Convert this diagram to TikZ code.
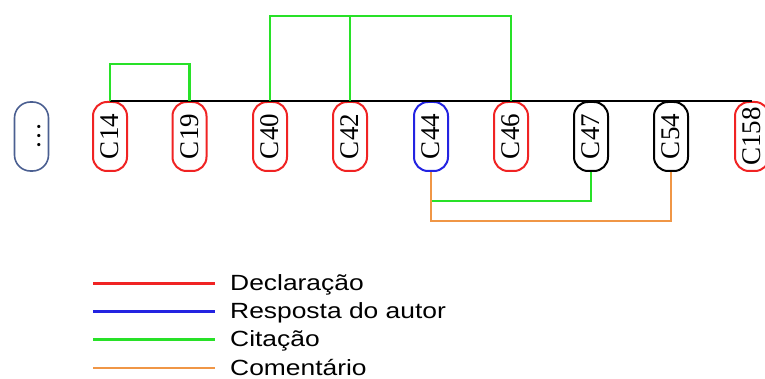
\documentclass[tikz,border=0pt]{standalone}
\usepackage{fontspec}
\usepackage{graphicx}
\setmainfont{Liberation Serif}
\newfontfamily\legendfont[FakeStretch=1.2]{Liberation Sans}
\newcommand{\vtext}[1]{\rotatebox{90}{#1}}

\definecolor{declred}{RGB}{240,35,35}
\definecolor{respblue}{RGB}{35,35,225}
\definecolor{citegreen}{RGB}{40,225,40}
\definecolor{comorange}{RGB}{240,150,70}
\definecolor{moreblue}{RGB}{75,95,145}

\begin{document}
\begin{tikzpicture}[x=1pt,y=-1pt,
  msg/.style={draw,line width=2pt,rounded corners=14pt,minimum width=34pt,
              minimum height=69pt,inner sep=0pt,font=\fontsize{27}{30}\selectfont},
  link/.style={line width=2.2pt},
  key/.style={anchor=base west,inner sep=0pt,font=\legendfont\fontsize{22}{26}\selectfont}]
\useasboundingbox (0,0) rectangle (765,379);

% messages of the thread
\node (more) at ( 31.5, 136.5) [msg,draw=moreblue,line width=1.6pt,rounded corners=16pt] {\vtext{\vphantom{C}\ldots}};
\node (c14)  at (110.0, 136.5) [msg,draw=declred]  {\vtext{C14}};
\node (c19)  at (189.5, 136.5) [msg,draw=declred]  {\vtext{C19}};
\node (c40)  at (270.0, 136.5) [msg,draw=declred]  {\vtext{C40}};
\node (c42)  at (350.0, 136.5) [msg,draw=declred]  {\vtext{C42}};
\node (c44)  at (431.0, 136.5) [msg,draw=respblue] {\vtext{C44}};
\node (c46)  at (511.0, 136.5) [msg,draw=declred]  {\vtext{C46}};
\node (c47)  at (591.0, 136.5) [msg,draw=black]    {\vtext{C47}};
\node (c54)  at (671.0, 136.5) [msg,draw=black]    {\vtext{C54}};
\node (c158) at (752.0, 136.5) [msg,draw=declred]  {\vtext{C158}};

\draw [link,black] (c14.north) -- (c158.north);

% citations above
\draw [link,citegreen] (c14.north) -- ++(0,-37) -| (c19.north);
\draw [link,citegreen] (c40.north) -- ++(0,-85) coordinate (top) -| (c46.north);
\draw [link,citegreen] (c42.north) -- (c42.north |- top);

% citation and comment below
\draw [link,citegreen] (c44.south) -- ++(0,29) -| (c47.south);
\draw [link,comorange] (c44.south) -- ++(0,49) -| (c54.south);

% legend
\coordinate (k1) at (93,283.5);
\coordinate (k2) at (93,311.5);
\coordinate (k3) at (93,339.5);
\coordinate (k4) at (93,368.0);
\node (decl) at (230,290.5) [key] {Declaração};
\node (resp) at (230,318.5) [key] {Resposta do autor};
\node (cita) at (230,346.5) [key] {Citação};
\node (coms) at (230,375.0) [key] {Comentário};

\draw [link,declred,shorten >=15pt]   (k1) -- (k1 -| decl.west);
\draw [link,respblue,shorten >=15pt]  (k2) -- (k2 -| resp.west);
\draw [link,citegreen,shorten >=15pt] (k3) -- (k3 -| cita.west);
\draw [link,comorange,shorten >=15pt] (k4) -- (k4 -| coms.west);
\end{tikzpicture}
\end{document}
